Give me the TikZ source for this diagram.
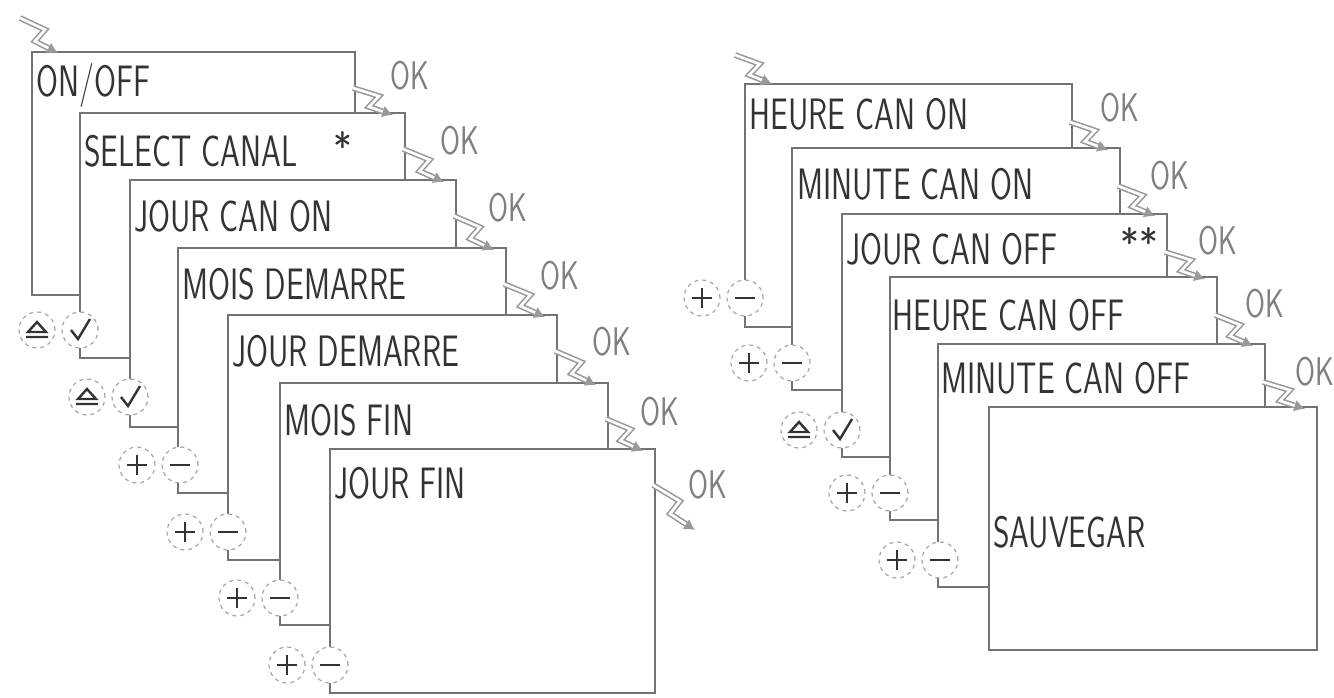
\documentclass[tikz,border=0pt]{standalone}
\usetikzlibrary{arrows.meta,calc}
\begin{document}
\begin{tikzpicture}[x=0.75pt,y=-0.75pt,
  scr/.style={draw=black!55,line width=2.2pt,fill=white},
  lcd/.style={anchor=base west,inner sep=0,text=black!80,font=\sffamily\fontsize{33}{33}\selectfont},
  oklab/.style={anchor=base west,inner sep=0,text=black!50,font=\sffamily\fontsize{30}{30}\selectfont},
  btn/.style={circle,draw=black!35,dashed,line width=0.9pt,fill=white,minimum size=27pt,inner sep=0},
  sym/.style={draw=black!80,line width=2.2pt},
  zig/.style={draw=black!40,line width=1.2pt,double=white,double distance=2pt,-{Latex[length=8pt,width=9pt]}}]
\useasboundingbox (0,0) rectangle (1334,698);
\newcommand{\lcdtxt}[1]{\scalebox{0.72}[1]{#1}}
\newcommand{\zigto}[2]{\draw[zig] (#1) -- ($(#1)!0.45!(#2)+(8,-4)$) -- ($(#1)!0.55!(#2)+(-6,4)$) -- (#2);}
% left column boxes
\foreach \l/\t/\r/\b/\n in {32/52/355/295/a1,80/113/405/358/a2,130/180/456/427/a3,178/248/506/493/a4,228/315/557/560/a5,280/383/608/625/a6,330/449/655/693/a7}{
  \draw[scr] (\l,\t) rectangle (\r,\b);
  \coordinate (\n s) at (\r-2,\t+36);
  \coordinate (\n e) at (\r-12,\t+2);
}
\node[lcd] (t1) at (36,97) {\lcdtxt{ON/OFF}};
\node[lcd] (t2) at (84,167) {\lcdtxt{SELECT CANAL}};
\node[lcd,font=\sffamily\fontsize{30}{30}\selectfont] (s1) at (333,162) {*};
\node[lcd] (t3) at (134,232) {\lcdtxt{JOUR CAN ON}};
\node[lcd] (t4) at (182,300) {\lcdtxt{MOIS DEMARRE}};
\node[lcd] (t5) at (232,367) {\lcdtxt{JOUR DEMARRE}};
\node[lcd] (t6) at (284,435) {\lcdtxt{MOIS FIN}};
\node[lcd] (t7) at (334,498) {\lcdtxt{JOUR FIN}};
% right column boxes
\foreach \l/\t/\r/\b/\n in {745/84/1072/327/b1,792/148/1120/390/b2,842/214/1167/457/b3,890/277/1217/520/b4,938/344/1265/587/b5,989/407/1317/650/b6}{
  \draw[scr] (\l,\t) rectangle (\r,\b);
  \coordinate (\n s) at (\r-2,\t+38);
  \coordinate (\n e) at (\r-12,\t+2);
}
\node[lcd] (u1) at (749,130) {\lcdtxt{HEURE CAN ON}};
\node[lcd] (u2) at (797,200) {\lcdtxt{MINUTE CAN ON}};
\node[lcd] (u3) at (846,265) {\lcdtxt{JOUR CAN OFF}};
\node[lcd,font=\sffamily\fontsize{30}{30}\selectfont] (s2) at (1120,258) {**};
\node[lcd] (u4) at (892,330) {\lcdtxt{HEURE CAN OFF}};
\node[lcd] (u5) at (941,393) {\lcdtxt{MINUTE CAN OFF}};
\node[lcd] (u6) at (993,547) {\lcdtxt{SAUVEGAR}};
% buttons
\newcommand{\plusminus}[3]{%
  \node[btn] (#3p) at (#1-43,#2) {};
  \node[btn] (#3m) at (#1,#2) {};
  \draw[sym] (#1-53,#2) -- (#1-33,#2) (#1-43,#2-10) -- (#1-43,#2+10);
  \draw[sym] (#1-10,#2) -- (#1+10,#2);}
\newcommand{\upok}[3]{%
  \node[btn] (#3u) at (#1-43,#2) {};
  \node[btn] (#3k) at (#1,#2) {};
  \draw[sym,line width=1.8pt] (#1-54,#2+7) -- (#1-32,#2+7) (#1-52,#2+2) -- (#1-43,#2-8) -- (#1-34,#2+2) -- cycle;
  \draw[sym,line width=1.8pt] (#1-9,#2) -- (#1-2,#2+9) -- (#1+10,#2-11);}
\upok{80}{330}{pa}
\upok{130}{397}{pb}
\plusminus{180}{465}{pc}
\plusminus{228}{532}{pd}
\plusminus{280}{598}{pe}
\plusminus{330}{665}{pf}
\plusminus{745}{298}{qa}
\plusminus{792}{363}{qb}
\upok{842}{430}{qc}
\plusminus{890}{493}{qd}
\plusminus{940}{560}{qe}
% OK labels
\foreach \n/\x/\y in {a1/390/90,a2/440/155,a3/488/222,a4/540/290,a5/592/355,a6/640/425,a7/688/498,
                        b1/1100/122,b2/1150/190,b3/1198/255,b4/1245/318,b5/1295/385}{
  \node[oklab] (ok\n) at (\x,\y) {\lcdtxt{OK}};
}
% OK arrows
\foreach \s/\e in {a1/a2,a2/a3,a3/a4,a4/a5,a5/a6,a6/a7,b1/b2,b2/b3,b3/b4,b4/b5,b5/b6}{
  \zigto{\s s}{\e e}
}
\coordinate (ea) at (695,530);
\zigto{a7s}{ea}
\coordinate (s0) at (20,18);
\coordinate (e0) at (58,53);
\zigto{s0}{e0}
\coordinate (s1) at (735,55);
\coordinate (e1) at (772,84);
\zigto{s1}{e1}
\end{tikzpicture}
\end{document}
